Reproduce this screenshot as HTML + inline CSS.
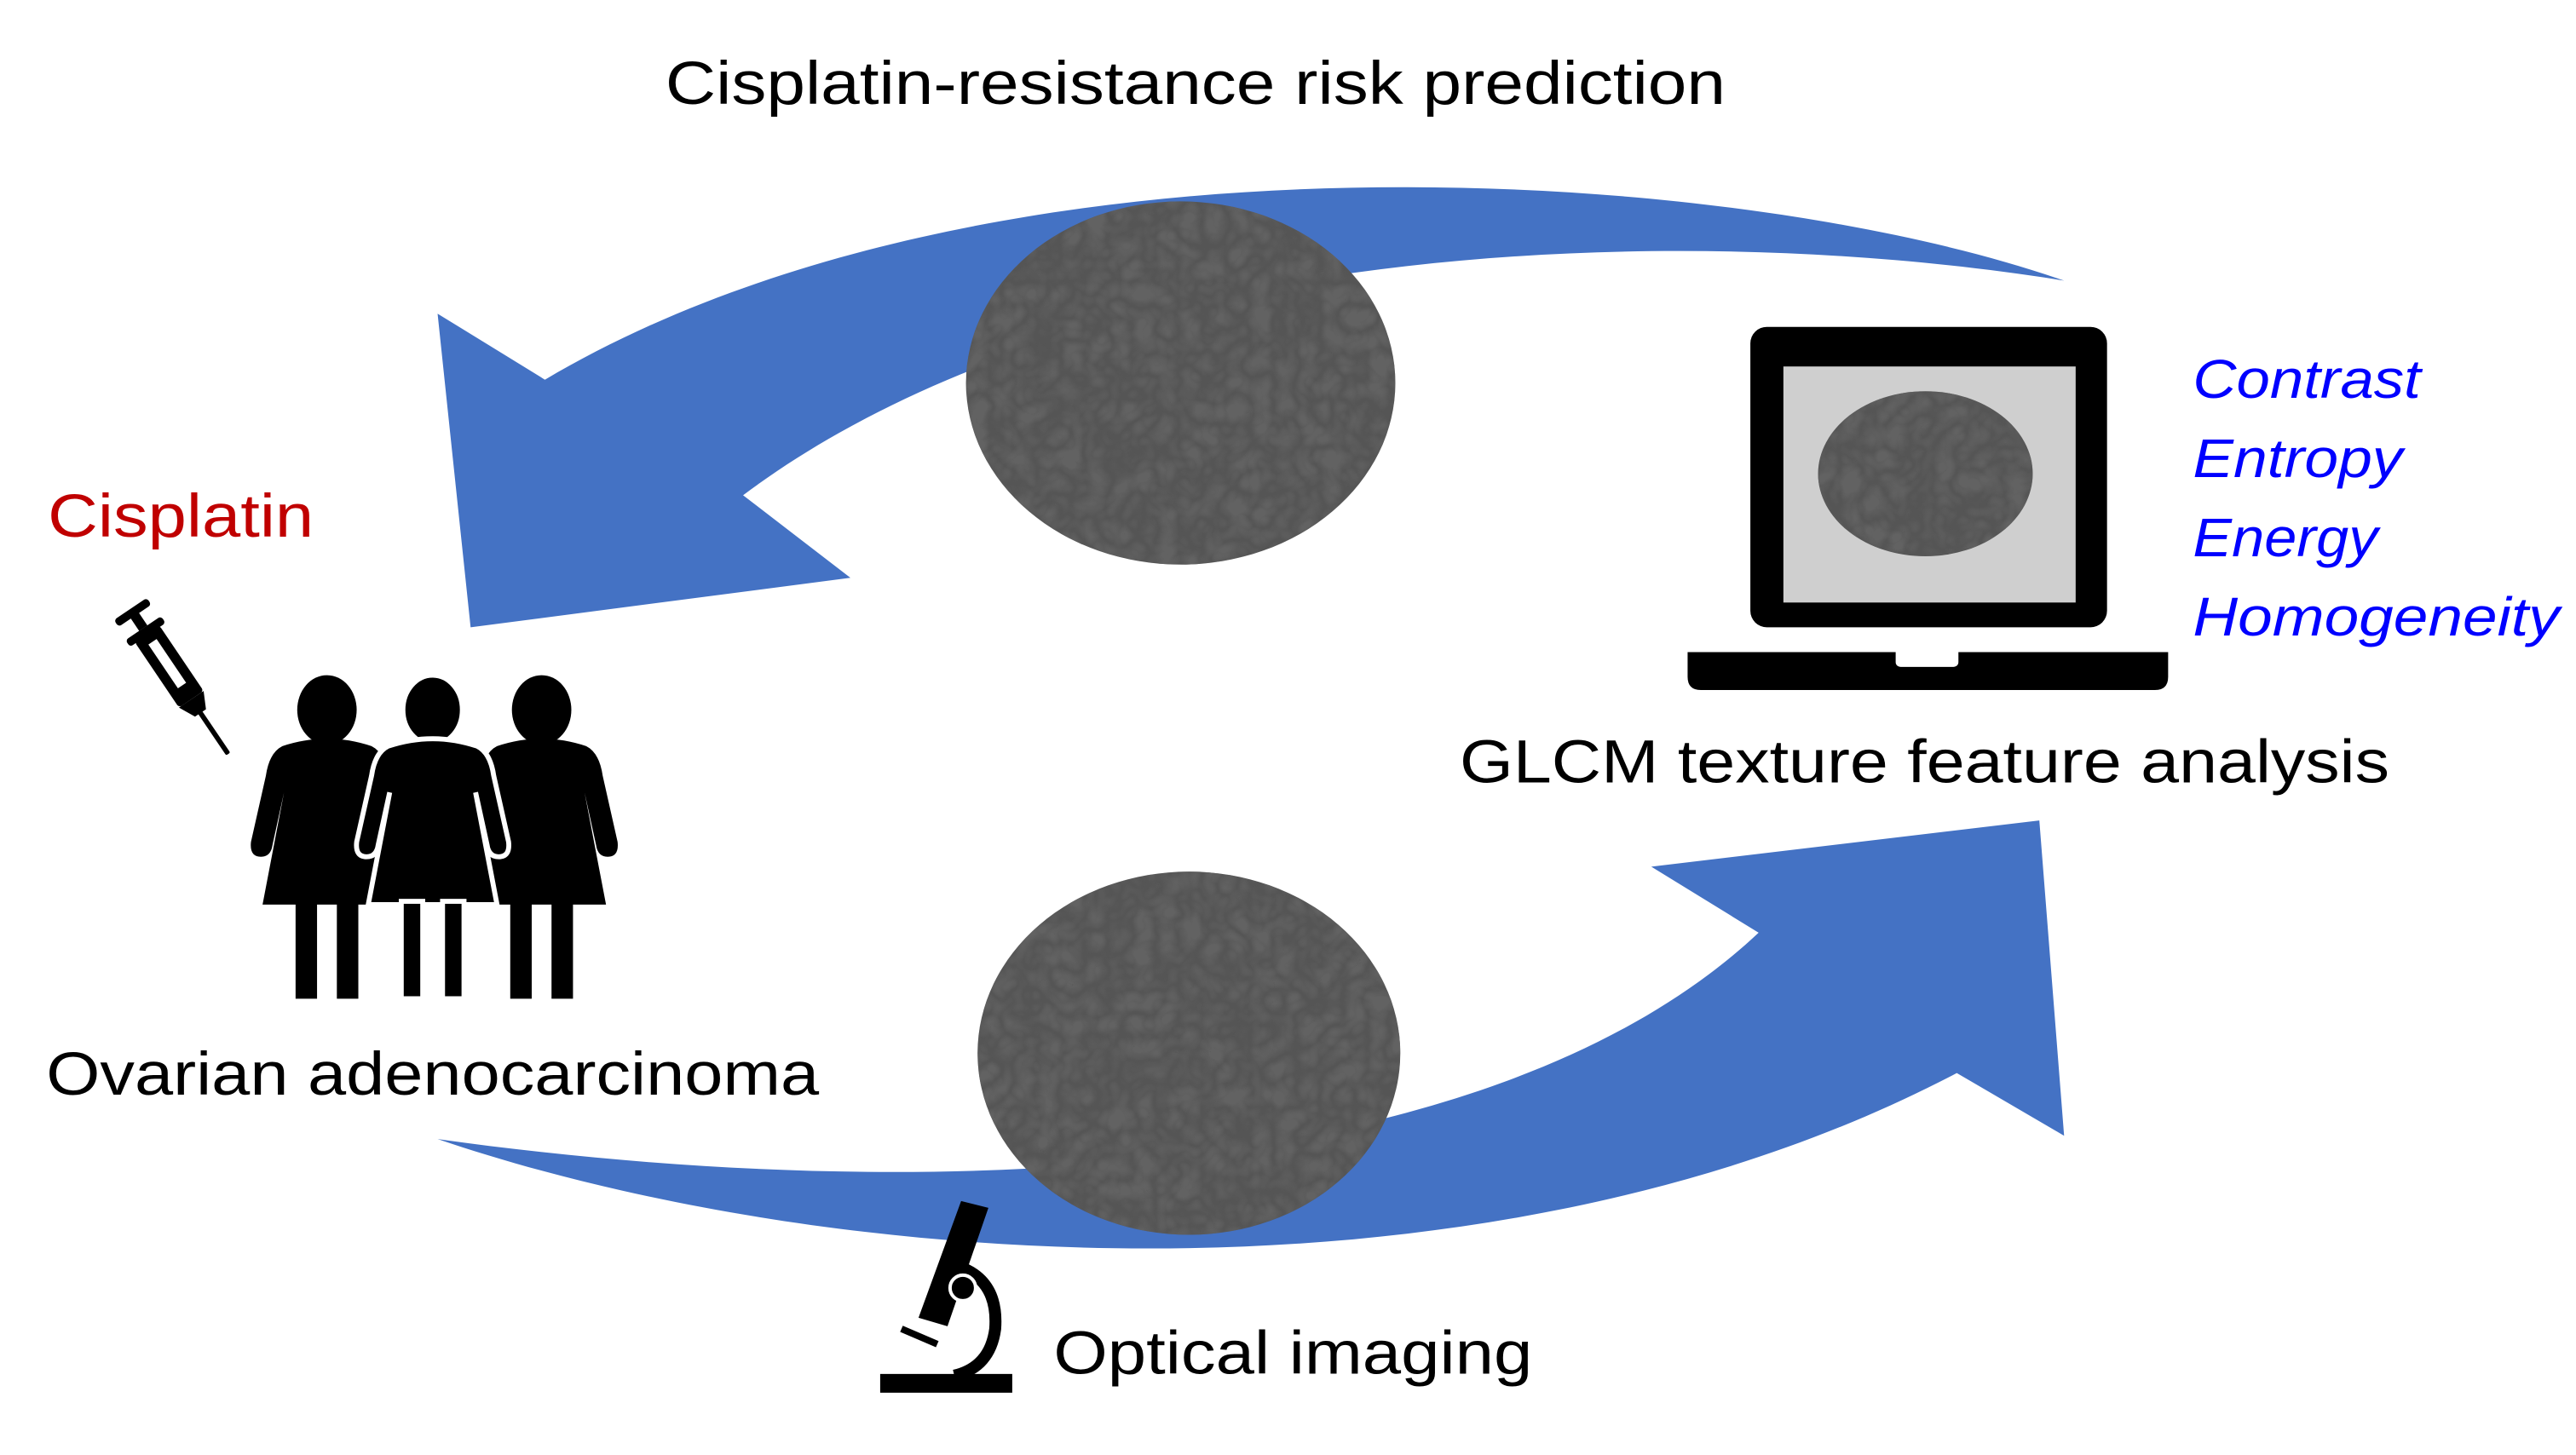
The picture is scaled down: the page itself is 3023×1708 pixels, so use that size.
<!DOCTYPE html>
<html><head><meta charset="utf-8"><style>
html,body{margin:0;padding:0;background:#fff;}
svg{display:block;}
text{font-family:"Liberation Sans",sans-serif;}
</style></head><body>
<svg width="3023" height="1708" viewBox="0 0 1560 881.4" xmlns="http://www.w3.org/2000/svg">
<defs>
<filter id="tex" x="0" y="0" width="100%" height="100%">
<feTurbulence type="turbulence" baseFrequency="0.07" numOctaves="2" seed="4" result="n"/>
<feColorMatrix in="n" type="matrix" values="0 0 0 0 0.12  0 0 0 0 0.12  0 0 0 0 0.12  2.2 0 0 0 -0.15" result="c"/>
<feComposite in="c" in2="SourceGraphic" operator="in"/>
</filter>
<clipPath id="c1"><ellipse cx="715" cy="232" rx="130" ry="110"/></clipPath>
<clipPath id="c2"><ellipse cx="720" cy="638" rx="128" ry="110"/></clipPath>
<clipPath id="c3"><ellipse cx="1166" cy="287" rx="65" ry="50"/></clipPath>
<g id="woman">
<ellipse cx="0" cy="430" rx="18" ry="21"/>
<path d="M-27,452 Q0,443 27,452 Q35,456 37,470 L46,510 Q47,519 40,519 Q34,519 33,512 L26,480 L39,548 L-39,548 L-26,480 L-33,512 Q-34,519 -40,519 Q-47,519 -46,510 L-37,470 Q-35,456 -27,452 Z"/>
<rect x="-19" y="546" width="13" height="59"/>
<rect x="6" y="546" width="13" height="59"/>
</g>
</defs>

<path fill="#4472c4" d="M1250,170 C1050,100 600,70 330,230 L265,190 L285,380 L515,350 L450,300 C650,150 1000,130 1250,170 Z"/>
<path fill="#4472c4" d="M265,690 C500,770 900,800 1185,650 L1250,688 L1235,497 L1000,525 L1065,565 C900,720 550,730 265,690 Z"/>

<ellipse cx="715" cy="232" rx="130" ry="110" fill="#555"/>
<g clip-path="url(#c1)"><rect x="580" y="120" width="270" height="225" fill="#000" filter="url(#tex)"/></g>
<ellipse cx="720" cy="638" rx="128" ry="110" fill="#555"/>
<g clip-path="url(#c2)"><rect x="590" y="525" width="260" height="225" fill="#000" filter="url(#tex)"/></g>

<rect x="1060" y="198" width="216" height="182" rx="10" fill="#000"/>
<rect x="1080" y="222" width="177" height="143" fill="#cfcfcf"/>
<ellipse cx="1166" cy="287" rx="65" ry="50" fill="#555"/>
<g clip-path="url(#c3)"><rect x="1100" y="235" width="135" height="105" fill="#000" filter="url(#tex)"/></g>
<path d="M1022,395 L1148,395 L1148,401 Q1148,404 1152,404 L1182,404 Q1186,404 1186,401 L1186,395 L1313,395 L1313,410 Q1313,418 1305,418 L1030,418 Q1022,418 1022,410 Z" fill="#000"/>

<use href="#woman" x="198" y="0"/>
<use href="#woman" x="328" y="0"/>
<use href="#woman" x="262" y="0" stroke="#fff" stroke-width="3"/>

<g transform="translate(108,412) rotate(-34)" fill="#000">
<rect x="-3" y="-50" width="6" height="12"/>
<rect x="-12" y="-52" width="24" height="5" rx="2"/>
<rect x="-13" y="-38" width="26" height="5" rx="2"/>
<rect x="-9" y="-34" width="18" height="48" rx="2"/>
<rect x="-3" y="-28" width="6" height="32" fill="#fff"/>
<path d="M-9,14 L9,14 L4,24 L-4,24 Z"/>
<rect x="-1.5" y="22" width="3" height="32" rx="1"/>
</g>

<g transform="scale(0.516)">
<rect x="1033" y="1613" width="155" height="22" fill="#000"/>
<path d="M1128,1488 Q1172,1505 1168,1560 Q1162,1605 1120,1615" fill="none" stroke="#000" stroke-width="14"/>
<polygon points="1128,1410 1160,1418 1112,1557 1078,1547" fill="#000"/>
<line x1="1058" y1="1560" x2="1100" y2="1578" stroke="#000" stroke-width="8"/>
<circle cx="1130" cy="1512" r="15" fill="#000" stroke="#fff" stroke-width="4"/>
</g>

<text x="403" y="63" font-size="37" textLength="642" lengthAdjust="spacingAndGlyphs" fill="#000">Cisplatin-resistance risk prediction</text>
<text x="29" y="325" font-size="37" textLength="161" lengthAdjust="spacingAndGlyphs" fill="#c00000">Cisplatin</text>
<text x="28" y="663" font-size="37" textLength="468" lengthAdjust="spacingAndGlyphs" fill="#000">Ovarian adenocarcinoma</text>
<text x="884" y="474" font-size="37" textLength="563" lengthAdjust="spacingAndGlyphs" fill="#000">GLCM texture feature analysis</text>
<text x="638" y="832" font-size="37" textLength="290" lengthAdjust="spacingAndGlyphs" fill="#000">Optical imaging</text>
<g font-size="33" font-style="italic" fill="#0000ff">
<text x="1328" y="241" textLength="138" lengthAdjust="spacingAndGlyphs">Contrast</text>
<text x="1328" y="289" textLength="127" lengthAdjust="spacingAndGlyphs">Entropy</text>
<text x="1328" y="337" textLength="112" lengthAdjust="spacingAndGlyphs">Energy</text>
<text x="1328" y="385" textLength="222" lengthAdjust="spacingAndGlyphs">Homogeneity</text>
</g>
</svg>
</body></html>
